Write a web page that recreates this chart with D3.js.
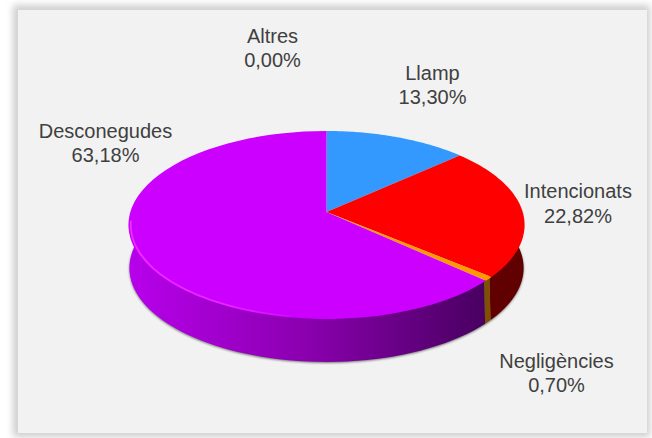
<!DOCTYPE html>
<html><head><meta charset="utf-8">
<script src="https://cdn.jsdelivr.net/npm/d3@7"></script>
<style>html,body{margin:0;padding:0;background:#fff}svg{display:block}</style>
</head><body><svg id="c" width="652" height="438"></svg>
<script>
const categories=["Llamp","Intencionats","Negligències","Desconegudes","Altres"];
const values=[13.30,22.82,0.70,63.18,0.00];
const valueLabels=["13,30%","22,82%","0,70%","63,18%","0,00%"];
const topColors=["#3399ff","#ff0000","#ff9900","#cc00ff","#999999"];
const sideColors=["#1a4d80","#600000","#805000","#660080","#4d4d4d"];
const labelCenters=[[432.5,85],[578,203.5],[556.5,373],[105.5,143],[272.5,48]];

const svg=d3.select("#c");
const defs=svg.append("defs");
const blur=defs.append("filter").attr("id","panelShadow").attr("x","-10%").attr("y","-10%").attr("width","120%").attr("height","120%");
blur.append("feGaussianBlur").attr("stdDeviation",3.5);
const sh=defs.append("filter").attr("id","pieShadow").attr("x","-10%").attr("y","-10%").attr("width","120%").attr("height","120%");
sh.append("feGaussianBlur").attr("stdDeviation",1.3);
const soft=defs.append("filter").attr("id","rimSoft").attr("x","-5%").attr("y","-5%").attr("width","110%").attr("height","110%");
soft.append("feGaussianBlur").attr("stdDeviation",0.6);
const g1=defs.append("linearGradient").attr("id","purpleSide").attr("gradientUnits","userSpaceOnUse").attr("x1",128).attr("x2",486).attr("y1",0).attr("y2",0);
g1.append("stop").attr("offset",0).attr("stop-color","#b800ec");
g1.append("stop").attr("offset",0.5).attr("stop-color","#8a00ae");
g1.append("stop").attr("offset",1).attr("stop-color","#480060");
const g2=defs.append("linearGradient").attr("id","rimFade").attr("gradientUnits","userSpaceOnUse").attr("x1",130).attr("x2",310).attr("y1",0).attr("y2",0);
g2.append("stop").attr("offset",0).attr("stop-color","#f030ff").attr("stop-opacity",1);
g2.append("stop").attr("offset",0.55).attr("stop-color","#f030ff").attr("stop-opacity",0.8);
g2.append("stop").attr("offset",1).attr("stop-color","#f030ff").attr("stop-opacity",0);

// panel
svg.append("rect").attr("x",13).attr("y",5).attr("width",637).attr("height",432).attr("fill","#cfcfcf").attr("filter","url(#panelShadow)");
svg.append("rect").attr("x",18).attr("y",10).attr("width",629).attr("height",423).attr("fill","#f2f2f2");

// perspective disc projection
const cx=326.5,cy=212,a=92.2,b=196.2,k=-0.138,depth=43,shrink=0.995;
const proj=t=>{const u=Math.sin(t),v=-Math.cos(t),w=1+k*v;return [cx+b*u/w,cy+a*v/w];};
const lower=d=>[cx+(d[0]-cx)*shrink,d[1]+depth];
const inner=d=>[cx+(d[0]-cx)*0.988,cy+13+(d[1]-cy-13)*0.988];
const pie=d3.pie().sort(null).value(d=>d)(values);
const line=d3.line();
const arcPts=(s,e)=>d3.range(0,61).map(i=>proj(s+(e-s)*i/60));
const FRONT_L=3*Math.PI/2+0.2, FRONT_R=Math.PI/2-0.2;
const wall=(s,e)=>{
  const lo=Math.max(s,FRONT_R),hi=Math.min(e,FRONT_L);
  if(hi<=lo)return null;
  const p=arcPts(lo,hi);
  return line(p.map(inner).concat(p.slice().reverse().map(lower)))+"Z";
};
// soft shadow around the wall
svg.append("path").attr("d",wall(FRONT_R,FRONT_L)).attr("fill","#555").attr("opacity",.8).attr("transform","translate(0,1)").attr("filter","url(#pieShadow)");
// walls
svg.append("g").selectAll("path").data(pie.filter(d=>d.value>0&&wall(d.startAngle,d.endAngle))).join("path")
 .attr("d",d=>wall(d.startAngle,d.endAngle))
 .attr("fill",d=>d.index===3?"url(#purpleSide)":sideColors[d.index]);
// top face
svg.append("g").selectAll("path").data(pie.filter(d=>d.value>0)).join("path")
 .attr("d",d=>line([[cx,cy]].concat(arcPts(d.startAngle,d.endAngle)))+"Z")
 .attr("fill",d=>topColors[d.index]);
// rim highlight on the front-left edge
svg.append("path").attr("d",line(arcPts(3.3,4.62).map(inner))).attr("fill","none").attr("stroke","url(#rimFade)").attr("stroke-width",1.6).attr("filter","url(#rimSoft)");
// labels
const lab=svg.append("g").attr("font-family","'Liberation Sans'").attr("font-size",20).attr("fill","#404040").attr("text-anchor","middle");
categories.forEach((c,i)=>{
  lab.append("text").attr("x",labelCenters[i][0]).attr("y",labelCenters[i][1]-12.25).attr("dy","0.35em").text(c);
  lab.append("text").attr("x",labelCenters[i][0]).attr("y",labelCenters[i][1]+12.25).attr("dy","0.35em").text(valueLabels[i]);
});
</script></body></html>
